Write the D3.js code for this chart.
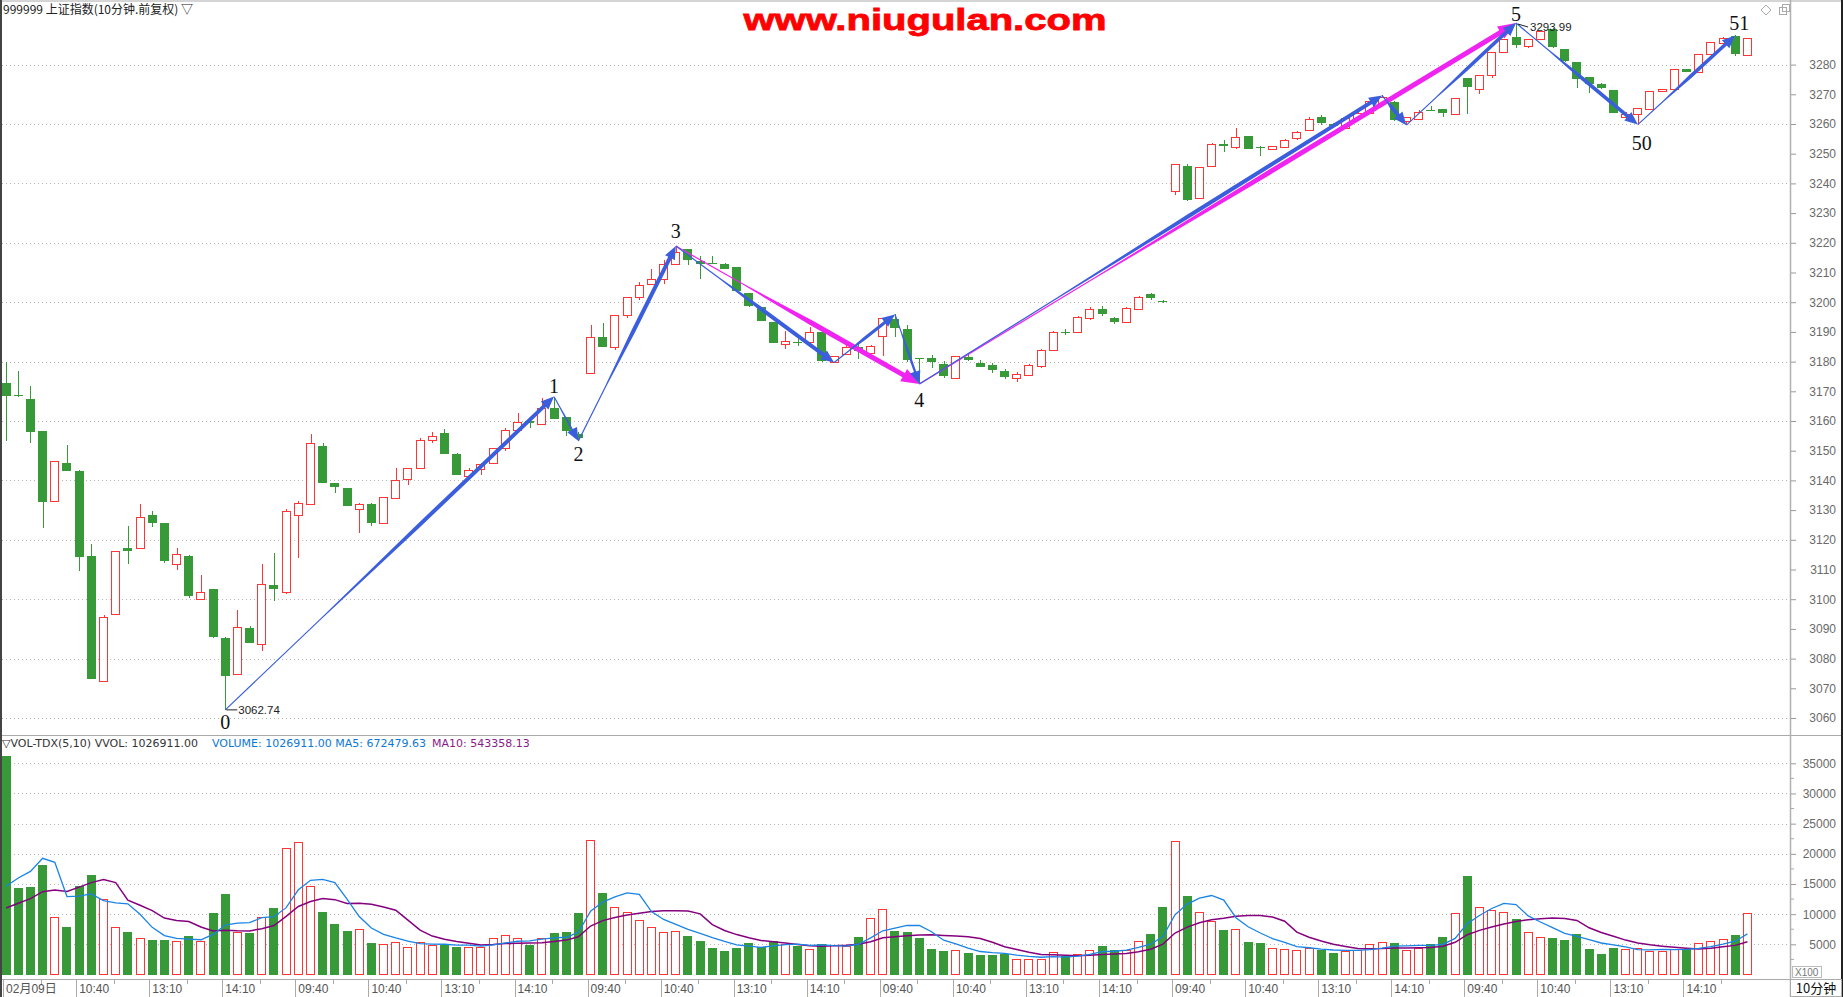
<!DOCTYPE html>
<html><head><meta charset="utf-8">
<script src="https://cdn.jsdelivr.net/npm/d3@7"></script>
<style>body{margin:0;background:#fff;overflow:hidden}svg{display:block}</style>
</head><body><svg id="c" width="1843" height="997"></svg>
<script>
// ---------- DATA ----------
const opens = [
3172.9,3168.8,3167.3,3156.8,3133.1,3145.9,3143.3,3114.4,3072.2,3095.1,
3117.4,3117.3,3128.4,3125.8,3111.9,3114.4,3100.0,3103.6,3087.1,3074.8,
3090.4,3084.9,3104.9,3102.5,3128.4,3132.1,3151.7,3139.2,3137.5,3130.3,
3131.9,3125.6,3134.1,3140.4,3144.2,3153.6,3156.0,3148.9,3141.5,3143.8,
3145.9,3150.9,3156.7,3160.0,3159.0,3164.5,3161.4,3155.7,3176.2,3188.4,
3185.0,3195.7,3201.9,3206.2,3207.8,3212.6,3217.8,3214.0,3213.3,3212.7,
3211.9,3203.0,3198.5,3193.4,3185.8,3186.5,3186.4,3190.1,3179.8,3182.4,
3185.0,3182.8,3188.4,3194.3,3191.0,3181.2,3181.1,3179.1,3174.4,3181.4,
3179.6,3178.9,3177.0,3174.6,3175.6,3178.5,3183.9,3190.0,3189.8,3194.6,
3197.6,3194.6,3193.4,3197.8,3202.6,3200.4,3237.6,3246.0,3235.1,3245.9,
3253.3,3252.1,3256.0,3252.1,3251.7,3252.2,3255.2,3258.0,3262.2,3260.0,
3258.6,3261.9,3263.7,3267.2,3267.3,3260.8,3261.9,3264.7,3265.2,3263.3,
3275.5,3271.8,3276.5,3284.2,3289.3,3286.2,3288.6,3292.0,3285.1,3281.0,
3275.7,3273.3,3271.6,3262.5,3263.3,3265.0,3271.2,3271.6,3278.5,3277.4,
3283.3,3287.4,3289.6,3283.3];
const highs = [
3179.8,3176.7,3171.9,3156.8,3146.6,3151.8,3143.6,3118.6,3094.7,3116.3,
3124.8,3131.9,3129.6,3125.8,3117.4,3115.0,3108.0,3103.6,3087.3,3096.4,
3091.1,3111.9,3115.7,3130.4,3132.9,3155.7,3152.6,3139.2,3137.5,3132.5,
3132.3,3134.3,3144.1,3144.2,3154.4,3156.2,3157.4,3149.2,3144.2,3145.8,
3150.9,3157.8,3162.8,3160.0,3167.6,3168.2,3161.4,3156.4,3192.4,3193.1,
3195.7,3201.9,3206.9,3211.2,3214.2,3218.9,3217.8,3215.4,3215.4,3213.2,
3211.9,3203.0,3198.5,3193.4,3190.3,3187.5,3191.6,3190.1,3181.8,3187.3,
3185.8,3185.6,3194.6,3195.9,3192.3,3181.2,3182.2,3180.2,3181.8,3182.8,
3180.5,3179.4,3177.5,3176.4,3179.2,3184.2,3190.2,3191.0,3195.2,3198.3,
3198.6,3195.0,3198.4,3202.2,3203.2,3200.8,3246.6,3246.6,3245.4,3253.5,
3254.6,3258.7,3256.0,3252.7,3252.6,3255.0,3257.8,3262.4,3263.1,3260.5,
3262.2,3263.9,3267.9,3269.6,3267.9,3262.3,3264.7,3266.0,3265.2,3268.6,
3275.5,3276.5,3284.3,3288.6,3293.99,3288.6,3291.4,3292.3,3285.1,3281.0,
3275.7,3273.9,3271.6,3264.0,3265.3,3271.2,3271.9,3278.5,3278.5,3283.6,
3287.5,3289.3,3289.8,3289.0];
const lows = [
3153.1,3168.0,3152.6,3123.9,3133.1,3143.1,3109.4,3073.1,3072.2,3095.1,
3111.8,3117.3,3124.2,3112.2,3109.8,3100.3,3100.0,3087.0,3062.74,3074.8,
3085.4,3082.4,3099.3,3101.7,3113.8,3132.1,3139.4,3135.7,3131.3,3122.3,
3124.6,3125.4,3134.1,3138.3,3144.2,3152.5,3148.8,3141.9,3141.5,3141.9,
3145.9,3149.8,3156.7,3157.8,3159.0,3160.7,3154.9,3153.3,3176.2,3185.2,
3184.0,3194.7,3200.9,3206.2,3206.0,3212.6,3212.6,3207.9,3212.8,3211.1,
3203.8,3198.3,3193.6,3186.1,3184.4,3185.4,3186.4,3179.8,3179.7,3182.4,
3180.8,3182.8,3182.0,3188.4,3180.0,3172.45,3177.7,3174.6,3174.4,3180.3,
3178.1,3176.3,3174.2,3173.2,3175.2,3178.0,3183.5,3189.0,3189.5,3194.0,
3195.2,3192.5,3193.0,3197.5,3200.8,3199.6,3236.1,3234.2,3234.8,3245.9,
3250.6,3251.5,3251.5,3249.2,3251.7,3252.0,3254.7,3258.0,3259.8,3258.8,
3258.3,3261.6,3263.5,3267.0,3261.1,3259.6,3261.9,3264.5,3262.5,3263.3,
3263.3,3270.1,3275.4,3284.2,3285.6,3285.6,3288.4,3285.5,3280.8,3272.0,
3270.3,3271.8,3263.7,3261.7,3259.8,3265.0,3270.8,3271.6,3277.4,3277.4,
3283.3,3287.4,3283.0,3283.3];
const closes = [
3168.4,3168.3,3156.3,3133.0,3146.6,3143.1,3114.5,3073.1,3093.9,3116.3,
3116.5,3127.7,3125.6,3112.9,3115.3,3101.0,3102.5,3087.5,3074.3,3090.7,
3085.4,3105.1,3103.7,3129.7,3132.4,3152.6,3139.4,3137.7,3131.3,3132.0,
3125.6,3134.3,3140.2,3144.2,3153.6,3155.0,3149.0,3141.9,3143.4,3145.4,
3150.9,3157.0,3159.5,3159.4,3164.5,3160.9,3156.6,3154.2,3188.3,3185.2,
3195.7,3201.9,3205.8,3207.8,3212.7,3216.8,3214.0,3212.9,3212.8,3211.1,
3203.8,3198.5,3193.8,3186.4,3186.9,3186.4,3189.9,3180.3,3181.8,3184.8,
3183.6,3185.1,3194.6,3191.4,3180.5,3181.0,3179.6,3175.1,3181.8,3180.3,
3178.3,3177.2,3175.0,3175.8,3178.8,3183.8,3189.8,3189.7,3194.9,3197.6,
3196.0,3193.2,3198.0,3201.8,3201.4,3200.0,3246.6,3234.4,3245.4,3253.3,
3252.6,3255.6,3251.5,3251.7,3252.6,3254.6,3257.3,3261.7,3260.1,3259.4,
3262.0,3263.7,3267.7,3269.2,3261.1,3262.3,3264.2,3264.5,3264.0,3268.6,
3272.6,3276.5,3284.3,3288.6,3286.6,3288.6,3291.4,3285.8,3281.0,3275.4,
3273.3,3271.8,3263.7,3263.4,3265.3,3271.2,3271.9,3278.5,3277.4,3283.6,
3287.5,3289.0,3283.4,3289.0];
// volumes in units of 100 (axis "X100")
const volumes = [
36200,14400,14570,18170,9590,7840,14730,16530,12540,7790,
7020,5990,5710,5710,5500,6370,5500,10140,13420,7080,
6860,9590,10960,20900,21890,14730,10300,8340,7190,7460,
5220,5000,5390,4510,5390,4840,4950,4570,4510,4570,
5990,6480,5990,4890,5990,6920,7080,10140,22270,13580,
11230,10410,8990,7950,7020,7130,6370,5550,4400,3910,
4400,5220,4570,5550,5060,4730,4180,5000,4890,4780,
6200,9430,10910,7190,7020,6040,4240,3910,4070,3580,
3250,3250,3420,2540,2540,2540,3690,3090,3360,4020,
4730,4070,4070,5550,6700,11120,22050,12930,10410,8940,
7350,7460,5390,5220,4350,4180,4020,4400,4130,3580,
3850,4070,5000,5390,5220,4070,4460,5000,6200,10140,
16370,11230,10740,10410,9160,7020,6150,6040,5710,6700,
4240,3420,4400,4180,4400,3960,3960,4180,4240,5300,
5500,5950,6600,10269.11];
// volumes of the bars just before the visible window (for MA5/MA10 warm-up)
const prevVolumes = [6500,6800,6700,6655,10375,7550,9115,7270,12965];
const timeTickLabels = ["02月09日","10:40","13:10","14:10","09:40","10:40","13:10","14:10",
"09:40","10:40","13:10","14:10","09:40","10:40","13:10","14:10",
"09:40","10:40","13:10","14:10","09:40","10:40","13:10","14:10"];
const priceTickValues = d3.range(3060, 3281, 10);
const priceGridValues = d3.range(3060, 3281, 20);
const volTickValues = d3.range(5000, 35001, 5000);
const bluePoints = [[18,3062.74],[45,3168.2],[47,3153.3],[55,3218.9],[68,3179.7],[73,3195.9],[75,3172.45],[113,3269.6],[115,3259.6],[124,3293.99],[134,3259.8],[142,3289.8]];
const blueWidths = [4,1.6,4,4,3.2,2.4,4,4,3.6,3.6,3.6];
const magentaPoints = [[55,3218.9],[75,3172.45],[124,3293.99]];
const waveLabels = [
 {bar:18,value:3062.74,text:"0",dy:19},
 {bar:45,value:3168.2,text:"1",dy:-4},
 {bar:47,value:3153.3,text:"2",dy:20},
 {bar:55,value:3218.9,text:"3",dy:-8},
 {bar:75,value:3172.45,text:"4",dy:23},
 {bar:124,value:3293.99,text:"5",dy:-2},
 {bar:134,value:3259.8,text:"50",dy:25},
 {bar:142,value:3289.8,text:"51",dy:-5}];

// ---------- SETUP ----------
const W=1843,H=997, plotR=1790;
const svg=d3.select("#c");
const RED="#ff3535", GREEN="#379937", FONT="'Liberation Sans',Arial,sans-serif";
const x=d3.scaleBand().domain(d3.range(147)).range([0,plotR]).paddingInner(0.26).paddingOuter(0.13);
const bw=x.bandwidth();
const cx=i=>x(i)+bw/2;
const y=d3.scaleLinear().domain([3060,3280]).range([718,64.6]);
const yv=d3.scaleLinear().domain([0,35000]).range([974.5,763.3]);
const N=opens.length;
const bars=d3.range(N).map(i=>({i,o:opens[i],h:highs[i],l:lows[i],c:closes[i],v:volumes[i],up:closes[i]>opens[i]}));

svg.append("rect").attr("width",W).attr("height",H).attr("fill","#fff");

// grid
const g0=svg.append("g").attr("stroke","#b4b4b4").attr("stroke-dasharray","1,3");
g0.selectAll(".gp").data(priceGridValues).join("line").attr("x1",2).attr("x2",plotR).attr("y1",d=>Math.round(y(d))+0.5).attr("y2",d=>Math.round(y(d))+0.5);
g0.selectAll(".gv").data(volTickValues).join("line").attr("class","gv").attr("x1",2).attr("x2",plotR).attr("y1",d=>Math.round(yv(d))+0.5).attr("y2",d=>Math.round(yv(d))+0.5);

// candles
const gc=svg.append("g").attr("shape-rendering","crispEdges");
bars.forEach(b=>{
  const col=b.up?RED:GREEN, xc=Math.round(cx(b.i))+0.5, xl=Math.round(x(b.i));
  const top=y(Math.max(b.o,b.c)), bot=y(Math.min(b.o,b.c));
  const bh=Math.max(1,Math.round(bot-top));
  if(b.up){
    gc.append("line").attr("x1",xc).attr("x2",xc).attr("y1",y(b.h)).attr("y2",Math.round(top)).attr("stroke",col);
    gc.append("line").attr("x1",xc).attr("x2",xc).attr("y1",Math.round(top)+bh).attr("y2",y(b.l)).attr("stroke",col);
    gc.append("rect").attr("x",xl+0.5).attr("y",Math.round(top)+0.5).attr("width",Math.round(bw)-1).attr("height",bh).attr("fill","#fff").attr("stroke",col);
  } else {
    gc.append("line").attr("x1",xc).attr("x2",xc).attr("y1",y(b.h)).attr("y2",y(b.l)).attr("stroke",col);
    gc.append("rect").attr("x",xl).attr("y",Math.round(top)).attr("width",Math.round(bw)).attr("height",bh).attr("fill",col);
  }
});

// volume bars
const gvb=svg.append("g").attr("shape-rendering","crispEdges");
bars.forEach(b=>{
  const xl=Math.round(x(b.i)), t=Math.round(yv(b.v)), base=Math.round(yv(0));
  if(b.up) gvb.append("rect").attr("x",xl+0.5).attr("y",t+0.5).attr("width",Math.round(bw)-1).attr("height",base-t-1).attr("fill","#fff").attr("stroke",RED);
  else gvb.append("rect").attr("x",xl).attr("y",t).attr("width",Math.round(bw)).attr("height",base-t).attr("fill",GREEN);
});

// MA lines
const allV=prevVolumes.concat(volumes), P=prevVolumes.length;
const ma=(n)=>d3.range(N).map(i=>d3.mean(allV.slice(P+i-n+1,P+i+1)));
const line=d3.line().x((d,i)=>cx(i)).y(d=>yv(d));
svg.append("path").attr("d",line(ma(10))).attr("fill","none").attr("stroke","#85007f").attr("stroke-width",1.5);
svg.append("path").attr("d",line(ma(5))).attr("fill","none").attr("stroke","#1a84e6").attr("stroke-width",1.3);

// zigzag arrows
function arrowPath(x0,y0,x1,y1,w0,w1,ah,aw){
  const dx=x1-x0,dy=y1-y0,L=Math.hypot(dx,dy),ux=dx/L,uy=dy/L,nx=-uy,ny=ux;
  const se=Math.max(0,L-ah),s1=0.3*se,s2=0.6*se;
  const Q=(s,o)=>[x0+ux*s+nx*o,y0+uy*s+ny*o];
  const pts=[Q(0,w0/2),Q(s1,w0/2),Q(s2,w1/2),Q(se,w1/2),Q(se,aw),[x1,y1],Q(se,-aw),Q(se,-w1/2),Q(s2,-w1/2),Q(s1,-w0/2),Q(0,-w0/2)];
  return "M"+pts.map(p=>p[0].toFixed(1)+","+p[1].toFixed(1)).join("L")+"Z";
}
const ga=svg.append("g");
for(let k=0;k<magentaPoints.length-1;k++){
  const a=magentaPoints[k],b=magentaPoints[k+1];
  ga.append("path").attr("d",arrowPath(cx(a[0]),y(a[1]),cx(b[0]),y(b[1]),1.2,5,18,7)).attr("fill","#f024f0");
}
for(let k=0;k<bluePoints.length-1;k++){
  const a=bluePoints[k],b=bluePoints[k+1];
  ga.append("path").attr("d",arrowPath(cx(a[0]),y(a[1]),cx(b[0]),y(b[1]),1.2,blueWidths[k],13,5.5)).attr("fill","#3b5fdc");
}

// wave labels
svg.append("g").selectAll("text").data(waveLabels).join("text")
 .attr("x",d=>cx(d.bar)+(d.text.length>1?4:0)).attr("y",d=>y(d.value)+d.dy)
 .attr("text-anchor","middle").attr("font-family","'Liberation Serif','DejaVu Serif',serif").attr("font-size",20).attr("fill","#111").text(d=>d.text);

// extreme value labels
const lowPt=[cx(18),y(3062.74)], hiPt=[cx(124),y(3293.99)];
svg.append("line").attr("x1",lowPt[0]+1).attr("x2",lowPt[0]+12).attr("y1",lowPt[1]).attr("y2",lowPt[1]).attr("stroke","#222");
svg.append("text").attr("x",lowPt[0]+13).attr("y",lowPt[1]+4).attr("font-family",FONT).attr("font-size",11.5).attr("fill","#222").text("3062.74");
svg.append("line").attr("x1",hiPt[0]+2).attr("x2",hiPt[0]+12).attr("y1",hiPt[1]+1).attr("y2",hiPt[1]+4).attr("stroke","#222");
svg.append("text").attr("x",hiPt[0]+14).attr("y",hiPt[1]+8).attr("font-family",FONT).attr("font-size",11.5).attr("fill","#222").text("3293.99");

// frame lines
svg.append("line").attr("x1",0).attr("x2",W).attr("y1",1).attr("y2",1).attr("stroke","#aaa");
svg.append("line").attr("x1",0).attr("x2",W).attr("y1",735.5).attr("y2",735.5).attr("stroke","#aaa");
svg.append("line").attr("x1",0).attr("x2",W).attr("y1",979.5).attr("y2",979.5).attr("stroke","#aaa");
svg.append("line").attr("x1",plotR+0.5).attr("x2",plotR+0.5).attr("y1",0).attr("y2",H).attr("stroke","#b0b0b0").attr("stroke-width",1.5);
svg.append("rect").attr("x",0).attr("y",0).attr("width",2).attr("height",H).attr("fill","#444");
svg.append("rect").attr("x",W-2).attr("y",0).attr("width",2).attr("height",H).attr("fill","#222");

// right price axis
const ayP=d3.axisRight(y).tickValues(priceTickValues).tickSize(5).tickFormat(d3.format("d"));
const gP=svg.append("g").attr("transform",`translate(${plotR+1},0)`).call(ayP);
gP.select(".domain").remove();
gP.selectAll("line").attr("stroke","#999");
gP.selectAll("text").attr("x",45).attr("text-anchor","end").attr("font-family",FONT).attr("font-size",12).attr("fill","#6a6a6a");
// right volume axis
const ayV=d3.axisRight(yv).tickValues(volTickValues).tickSize(5).tickFormat(d3.format("d"));
const gV=svg.append("g").attr("transform",`translate(${plotR+1},0)`).call(ayV);
gV.select(".domain").remove();
gV.selectAll("line").attr("stroke","#999");
gV.selectAll("text").attr("x",45).attr("text-anchor","end").attr("font-family",FONT).attr("font-size",12).attr("fill","#6a6a6a");
svg.append("g").selectAll("line").data(d3.range(2500,35001,5000)).join("line").attr("x1",plotR+1).attr("x2",plotR+4).attr("y1",d=>yv(d)).attr("y2",d=>yv(d)).attr("stroke","#aaa");
svg.append("rect").attr("x",1792.5).attr("y",966.5).attr("width",29).attr("height",11).attr("fill","#fff").attr("stroke","#bbb");
svg.append("text").attr("x",1795).attr("y",976).attr("font-family",FONT).attr("font-size",10).attr("fill","#777").text("X100");

// bottom time axis
const tickBars=d3.range(0,N,6);
const gT=svg.append("g").attr("shape-rendering","crispEdges");
gT.selectAll(".mj").data(tickBars).join("line").attr("x1",i=>Math.round(cx(i))-2.5).attr("x2",i=>Math.round(cx(i))-2.5).attr("y1",980).attr("y2",997).attr("stroke","#aaa");
gT.selectAll(".mn").data(tickBars.map(i=>i+3)).join("line").attr("class","mn").attr("x1",i=>Math.round(cx(i))-1.5).attr("x2",i=>Math.round(cx(i))-1.5).attr("y1",980).attr("y2",984).attr("stroke","#aaa");
svg.append("g").selectAll("text").data(tickBars).join("text").attr("x",i=>cx(i)).attr("y",993)
 .attr("font-family","'Liberation Sans','Noto Sans CJK SC',sans-serif").attr("font-size",12).attr("fill","#555").text((i,k)=>timeTickLabels[k]);
svg.append("rect").attr("x",plotR+0.5).attr("y",979.5).attr("width",51).attr("height",17).attr("fill","#fff").attr("stroke","#aaa");
svg.append("text").attr("x",1816).attr("y",993).attr("text-anchor","middle").attr("font-family","'Noto Sans CJK SC',sans-serif").attr("font-size",13).attr("fill","#111").text("10分钟");

// headers
svg.append("text").attr("x",3).attr("y",14).attr("font-family","'Noto Sans CJK SC',sans-serif").attr("font-size",12).attr("fill","#222").text("999999 上证指数(10分钟.前复权) ▽");
const vh=svg.append("text").attr("y",747).attr("font-family","'DejaVu Sans',sans-serif").attr("font-size",11);
vh.append("tspan").attr("x",2).attr("fill","#333").text("▽VOL-TDX(5,10) VVOL: 1026911.00");
vh.append("tspan").attr("x",212).attr("fill","#0c78d6").text("VOLUME: 1026911.00 MA5: 672479.63");
vh.append("tspan").attr("x",432).attr("fill","#8a1a8a").text("MA10: 543358.13");

// top-right icons
svg.append("path").attr("d","M1766,5 L1771,10 L1766,15 L1761,10 Z").attr("fill","none").attr("stroke","#aaa");
svg.append("rect").attr("x",1779.5).attr("y",7.5).attr("width",7).attr("height",7).attr("fill","#fff").attr("stroke","#aaa");
svg.append("rect").attr("x",1782.5).attr("y",4.5).attr("width",7).attr("height",7).attr("fill","none").attr("stroke","#aaa");

// watermark
svg.append("text").attr("x",925).attr("y",30).attr("text-anchor","middle").attr("font-family","'Liberation Sans',Arial,sans-serif")
 .attr("font-weight","bold").attr("font-size",30).attr("fill","#ff0000").attr("stroke","#ff0000").attr("stroke-width",0.8)
 .attr("textLength",363).attr("lengthAdjust","spacingAndGlyphs").text("www.niugulan.com");
</script></body></html>
